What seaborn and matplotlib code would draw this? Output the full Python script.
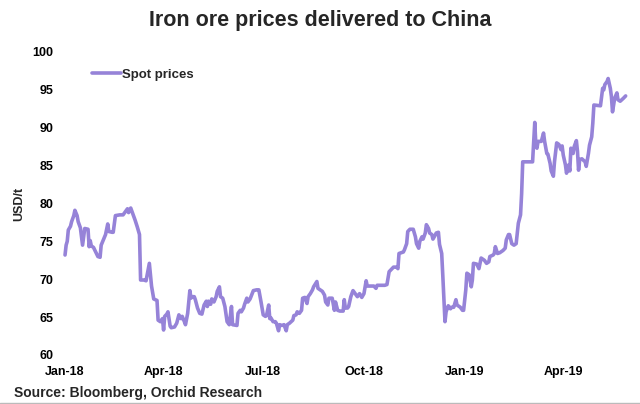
import matplotlib
matplotlib.use("Agg")
import matplotlib.pyplot as plt
import matplotlib.dates as mdates
import seaborn as sns
import pandas as pd
import numpy as np

# Days since 2018-01-01 and spot prices (USD/t)
days = [0, 1, 2, 3, 5, 6, 8, 9, 11, 12, 14, 16, 18, 21, 22, 23, 24, 26, 30, 32,
        33, 35, 37, 39, 40, 43, 44, 46, 50, 53, 55, 57, 58, 60, 62, 64, 66, 68, 69, 72,
        74, 77, 79, 81, 84, 85, 87, 89, 90, 91, 93, 94, 96, 97, 100, 102, 104, 106, 107, 109,
        110, 112, 114, 115, 116, 118, 119, 121, 123, 125, 127, 129, 130, 131, 133, 134, 136, 138, 139, 141,
        142, 144, 146, 148, 150, 152, 153, 157, 158, 160, 161, 163, 164, 166, 167, 169, 172, 175, 177, 179,
        181, 183, 184, 186, 187, 188, 190, 192, 193, 195, 196, 198, 200, 202, 203, 205, 208, 209, 211, 212,
        214, 216, 217, 219, 221, 222, 224, 226, 227, 230, 231, 233, 235, 237, 238, 240, 241, 244, 246, 247,
        249, 251, 254, 255, 256, 258, 259, 261, 263, 265, 267, 269, 271, 273, 275, 276, 282, 284, 285, 292,
        294, 296, 298, 300, 303, 304, 305, 307, 309, 310, 312, 313, 315, 318, 320, 321, 323, 324, 326, 327,
        329, 330, 332, 333, 335, 336, 338, 339, 341, 342, 344, 345, 347, 348, 350, 352, 353, 355, 356, 357,
        358, 361, 363, 364, 366, 367, 369, 371, 372, 373, 376, 378, 380, 383, 385, 387, 388, 391, 392, 393,
        395, 397, 400, 402, 403, 405, 406, 408, 410, 412, 413, 414, 416, 417, 418, 427, 428, 429, 430, 431,
        432, 435, 437, 438, 440, 441, 443, 444, 446, 447, 449, 451, 453, 454, 455, 457, 458, 460, 461, 462,
        464, 465, 467, 468, 469, 470, 472, 475, 476, 478, 479, 481, 482, 483, 489, 490, 491, 492, 493, 495,
        496, 498, 499, 500, 501, 502, 504, 505, 507, 510, 512]
prices = [73.2, 74.5, 75.0, 76.5, 77.0, 77.6, 78.4, 79.1, 78.4, 77.6, 76.8, 74.5, 76.7, 76.6, 74.3, 75.1, 74.4, 74.2, 73.0, 72.9,
          74.5, 75.2, 75.9, 77.3, 76.3, 76.2, 76.2, 78.4, 78.5, 78.5, 78.9, 79.3, 78.8, 79.4, 78.6, 77.8, 76.9, 75.9, 69.9, 69.9,
          69.8, 72.1, 69.1, 67.4, 67.2, 64.6, 64.4, 64.8, 63.3, 65.1, 65.4, 65.7, 63.8, 63.6, 63.7, 64.2, 65.3, 64.8, 65.1, 64.4,
          64.0, 65.5, 68.5, 67.5, 67.7, 67.7, 67.3, 66.2, 65.5, 65.4, 66.6, 67.1, 66.4, 67.1, 66.7, 67.4, 67.0, 67.7, 68.4, 69.0,
          67.7, 67.5, 66.4, 64.4, 64.0, 66.4, 64.0, 63.9, 65.5, 65.9, 65.7, 66.2, 66.7, 67.5, 67.0, 67.4, 68.5, 68.6, 68.6, 67.0,
          65.3, 65.1, 65.2, 66.6, 64.8, 64.9, 64.4, 64.4, 64.2, 63.2, 64.0, 63.9, 64.0, 63.2, 64.0, 64.2, 64.6, 65.2, 65.3, 65.7,
          65.5, 65.9, 67.5, 67.6, 66.8, 67.7, 68.1, 68.6, 69.0, 69.7, 68.8, 68.6, 68.4, 67.9, 67.0, 66.6, 67.5, 67.5, 65.9, 67.0,
          65.9, 65.8, 65.8, 67.3, 66.2, 66.2, 66.4, 67.7, 68.5, 68.1, 67.7, 68.1, 67.6, 68.1, 69.8, 69.1, 69.1, 68.8, 69.2, 69.2,
          69.3, 71.0, 71.3, 71.6, 71.6, 71.4, 73.4, 73.5, 73.6, 73.9, 74.7, 76.3, 76.6, 76.6, 75.6, 74.7, 74.1, 75.0, 75.6, 75.3,
          76.1, 77.2, 76.7, 76.1, 75.9, 75.3, 75.8, 76.1, 76.2, 74.6, 73.4, 70.5, 64.4, 65.7, 66.5, 66.1, 66.3, 66.3, 66.8, 67.3,
          66.6, 66.3, 65.9, 65.9, 68.6, 70.8, 70.6, 69.0, 69.9, 72.1, 72.0, 71.4, 72.8, 72.5, 72.1, 72.3, 73.0, 73.2, 73.4, 74.3,
          73.4, 73.5, 73.8, 74.1, 75.2, 75.9, 75.9, 74.7, 74.5, 74.7, 76.1, 77.4, 78.5, 81.3, 85.5, 85.5, 88.0, 90.7, 87.7, 87.3,
          88.2, 88.2, 89.3, 88.2, 86.6, 86.5, 85.3, 84.3, 83.6, 85.5, 88.0, 87.8, 87.1, 87.6, 86.4, 85.1, 84.0, 85.1, 84.3, 87.3,
          86.6, 87.5, 88.3, 86.9, 84.4, 85.8, 85.9, 85.5, 84.9, 86.6, 87.7, 88.8, 90.6, 93.0, 92.9, 94.1, 95.2, 95.0, 95.7, 96.1,
          96.5, 95.2, 94.1, 92.1, 93.0, 93.9, 94.6, 93.7, 93.5, 93.9, 94.2]
tick_dates = ["2018-01-01", "2018-04-01", "2018-07-01", "2018-10-01", "2019-01-01", "2019-04-01"]
y_ticks = [60, 65, 70, 75, 80, 85, 90, 95, 100]
series_name = "Spot prices"

sns.set_theme(style="white")
plt.rcParams["font.family"] = ["Liberation Sans", "DejaVu Sans"]

df = pd.DataFrame({
    "date": pd.Timestamp("2018-01-01") + pd.to_timedelta(days, unit="D"),
    "price": prices,
    "series": series_name,
})

fig = plt.figure(figsize=(6.4, 4.04), dpi=100)
ax = fig.add_axes([0.09375, 0.1213, 0.89375, 0.75])
color = "#9683D8"
sns.lineplot(data=df, x="date", y="price", hue="series", palette=[color],
             linewidth=2.6, ax=ax)

start = pd.Timestamp("2018-01-01")
ax.set_xlim(start - pd.Timedelta(days=4.6), start + pd.Timedelta(days=517.8))
ax.set_ylim(60, 100)
ax.set_xticks(pd.to_datetime(tick_dates))
ax.xaxis.set_major_formatter(mdates.DateFormatter("%b-%y"))
ax.set_yticks(y_ticks)
for lab in ax.get_xticklabels() + ax.get_yticklabels():
    lab.set_fontweight("bold")
    lab.set_fontsize(9)
    lab.set_color("black")
ax.tick_params(axis="both", length=0)
ax.tick_params(axis="y", pad=5)
ax.tick_params(axis="x", pad=8)
for s in ax.spines.values():
    s.set_visible(False)
ax.grid(False)
ax.set_xlabel("")
ax.set_ylabel("USD/t", fontsize=9, fontweight="bold", labelpad=5)

leg = ax.legend(loc="upper left", bbox_to_anchor=(0.035, 0.985), frameon=False,
                handlelength=2.2, handletextpad=0.1, prop={"weight": "bold", "size": 9.5})

fig.suptitle("Iron ore prices delivered to China", x=0.5, y=0.975,
             fontsize=15.5, fontweight="bold")
fig.text(0.022, 0.027, "Source: Bloomberg, Orchid Research", fontsize=10,
         fontweight="bold", ha="left", va="center")
fig.add_artist(plt.Line2D([0, 1], [0.002, 0.002], color="#bbbbbb", linewidth=1,
                          transform=fig.transFigure))

fig.savefig("out.png", dpi=100)
